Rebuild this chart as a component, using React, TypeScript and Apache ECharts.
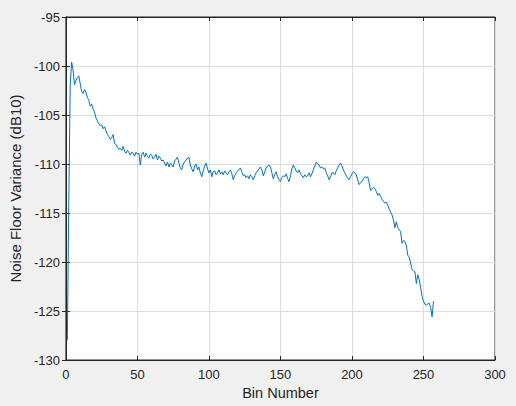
import React, { useEffect, useRef } from "react";
import * as echarts from "echarts";

const binStart = 1;
const noiseVariance: number[] = [
  -128, -114, -102, -99.6, -100.4, -101.9, -101.5, -101.2, -101.0, -101.8,
  -102.6, -102.8, -102.4, -102.7, -103.2, -103.5, -104.1, -103.9, -104.4, -104.7,
  -105.3, -105.6, -105.9, -106.1, -106.0, -106.4, -106.2, -106.6, -107.0, -107.2,
  -107.5, -107.3, -107.0, -107.9, -108.0, -108.3, -108.5, -108.4, -108.6, -108.2,
  -108.7, -108.9, -108.6, -108.8, -109.1, -108.8, -108.9, -109.2, -108.8, -109.0,
  -108.9, -110.1, -109.0, -108.8, -109.3, -108.9, -109.2, -109.4, -109.0, -109.1,
  -109.5, -109.3, -109.0, -109.6, -109.2, -109.4, -109.7, -109.6, -109.9, -110.2,
  -109.8, -110.3, -109.9, -110.1, -110.3, -109.7, -109.5, -109.3, -109.9, -110.4,
  -110.6, -110.0, -109.8, -109.6, -109.4, -109.3, -110.1, -110.5, -110.8, -110.2,
  -110.0, -110.6, -110.3, -110.9, -111.3, -110.7, -110.2, -109.9, -110.5, -110.9,
  -110.6, -111.3, -110.8, -110.7, -111.1, -110.9, -110.6, -111.0, -110.8, -111.1,
  -110.7, -110.9, -111.1, -110.8, -110.6, -111.0, -111.6, -111.2, -110.9, -110.7,
  -110.6, -110.4, -110.8, -111.2, -111.1, -111.4, -111.2, -111.5, -111.1, -111.3,
  -111.6, -111.2, -110.9, -110.7, -110.5, -110.3, -110.6, -111.2, -110.8, -110.4,
  -110.2, -110.1, -110.3, -110.9, -111.5, -111.1, -110.8, -111.3, -111.6, -111.8,
  -111.4, -111.2, -111.3, -111.0, -111.5, -111.8, -111.2, -110.5, -110.1, -110.4,
  -110.7, -110.9, -110.6, -111.0, -111.2, -111.4, -111.1, -111.3, -111.2, -110.9,
  -111.3, -111.0, -110.6, -110.2, -109.8, -110.0, -110.1, -110.4, -110.3, -110.5,
  -110.4, -110.9, -111.2, -111.6, -111.3, -110.9, -110.9, -111.1, -110.7, -110.4,
  -110.1, -109.9, -110.2, -110.6, -110.9, -111.2, -111.4, -111.6, -111.3, -111.0,
  -110.8, -110.9, -111.1, -111.6, -112.1, -111.9, -111.8, -111.5, -111.3, -111.4,
  -111.3, -111.9, -112.7, -112.5, -112.4, -112.5, -112.8, -113.2, -113.0, -113.3,
  -113.6, -113.8, -114.0, -113.9, -114.2, -114.6, -114.9, -115.2, -115.7, -116.5,
  -115.9, -116.5, -116.7, -116.9, -118.1, -117.8, -117.9, -118.3, -119.3, -119.5,
  -120.1, -120.8, -120.9, -121.0, -122.2, -121.3, -121.8, -122.6, -123.5, -124.0,
  -124.3, -124.4, -124.3, -124.2, -124.6, -125.6, -124.0,
];

const xTitle = "Bin Number";
const yTitle = "Noise Floor Variance (dB10)";
const xRange = { min: 0, max: 300, interval: 50 };
const yRange = { min: -130, max: -95, interval: 5 };

const FONT = "'Liberation Sans', Arial, Helvetica, sans-serif";
const AXIS_COLOR = "#262626";

export default function App() {
  const ref = useRef<HTMLDivElement>(null);
  useEffect(() => {
    if (!ref.current) return;
    const chart = echarts.init(ref.current, undefined, { renderer: "svg" });
    const data = noiseVariance.map((v, i) => [binStart + i, v]);
    const hiddenAxisCommon = {
      axisLine: { show: true, lineStyle: { color: AXIS_COLOR, width: 1 } },
      axisTick: { show: true, inside: true, length: 4, lineStyle: { color: AXIS_COLOR } },
      axisLabel: { show: false },
      splitLine: { show: false },
    };
    chart.setOption({
      animation: false,
      backgroundColor: "#f0f0f0",
      grid: {
        left: 62,
        right: 21,
        top: 17,
        bottom: 46,
        show: true,
        backgroundColor: "#ffffff",
        borderColor: AXIS_COLOR,
        borderWidth: 1,
      },
      xAxis: [
        {
          type: "value",
          min: xRange.min,
          max: xRange.max,
          interval: xRange.interval,
          name: xTitle,
          nameLocation: "middle",
          nameGap: 25,
          nameTextStyle: { color: AXIS_COLOR, fontSize: 14.5, fontFamily: FONT },
          axisLine: { show: true, onZero: false, lineStyle: { color: AXIS_COLOR, width: 1 } },
          axisTick: { show: true, inside: true, length: 4, lineStyle: { color: AXIS_COLOR } },
          axisLabel: { color: AXIS_COLOR, fontSize: 13, fontFamily: FONT, margin: 8 },
          splitLine: { show: true, lineStyle: { color: "#dedede", width: 1 } },
        },
        {
          type: "value",
          position: "top",
          min: xRange.min,
          max: xRange.max,
          interval: xRange.interval,
          ...hiddenAxisCommon,
        },
      ],
      yAxis: [
        {
          type: "value",
          min: yRange.min,
          max: yRange.max,
          interval: yRange.interval,
          name: yTitle,
          nameLocation: "middle",
          nameGap: 36,
          nameTextStyle: { color: AXIS_COLOR, fontSize: 15, fontFamily: FONT },
          axisLine: { show: true, onZero: false, lineStyle: { color: AXIS_COLOR, width: 1 } },
          axisTick: { show: true, inside: true, length: 4, lineStyle: { color: AXIS_COLOR } },
          axisLabel: { color: AXIS_COLOR, fontSize: 13, fontFamily: FONT, margin: 6 },
          splitLine: { show: true, lineStyle: { color: "#dedede", width: 1 } },
        },
        {
          type: "value",
          position: "right",
          min: yRange.min,
          max: yRange.max,
          interval: yRange.interval,
          ...hiddenAxisCommon,
        },
      ],
      series: [
        {
          type: "line",
          data,
          showSymbol: false,
          symbol: "none",
          lineStyle: { color: "#0072BD", width: 1 },
          itemStyle: { color: "#0072BD" },
        },
      ],
    });
    return () => chart.dispose();
  }, []);
  return (
    <div
      ref={ref}
      style={{ position: "fixed", left: 0, top: 0, width: 516, height: 406, background: "#f0f0f0" }}
    />
  );
}
